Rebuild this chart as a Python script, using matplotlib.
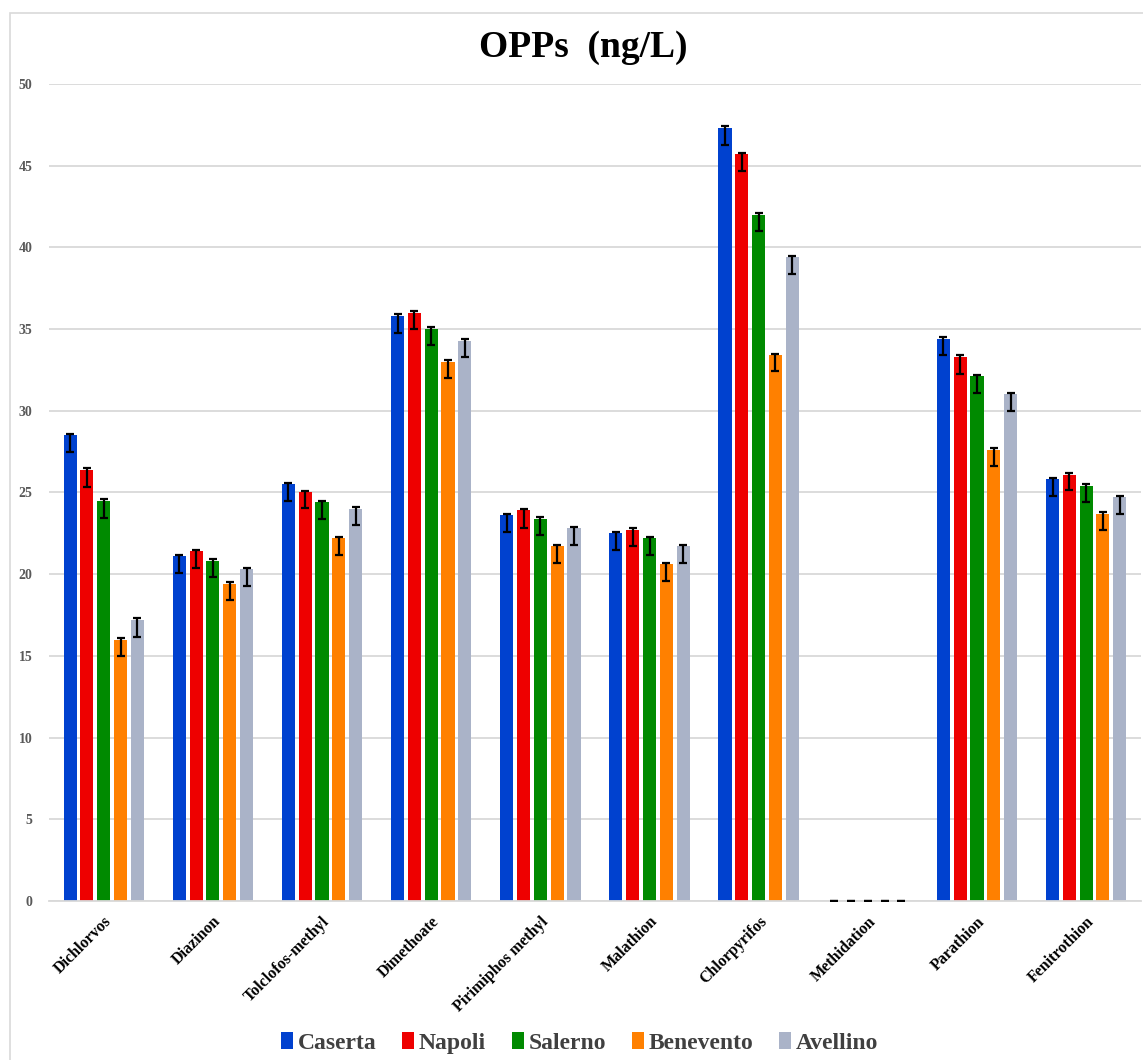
import numpy as np
import matplotlib
matplotlib.use("Agg")
import matplotlib.pyplot as plt
from matplotlib.patches import Rectangle, Patch

categories = ['Dichlorvos', 'Diazinon', 'Tolclofos-methyl', 'Dimethoate', 'Pirimiphos methyl',
              'Malathion', 'Chlorpyrifos', 'Methidation', 'Parathion', 'Fenitrothion']
regions = ['Caserta', 'Napoli', 'Salerno', 'Benevento', 'Avellino']

caserta   = [28.5, 21.1, 25.5, 35.8, 23.6, 22.5, 47.3, 0, 34.4, 25.8]
napoli    = [26.4, 21.4, 25.0, 36.0, 23.9, 22.7, 45.7, 0, 33.3, 26.1]
salerno   = [24.5, 20.8, 24.4, 35.0, 23.4, 22.2, 42.0, 0, 32.1, 25.4]
benevento = [16.0, 19.4, 22.2, 33.0, 21.7, 20.6, 33.4, 0, 27.6, 23.7]
avellino  = [17.2, 20.3, 24.0, 34.3, 22.8, 21.7, 39.4, 0, 31.0, 24.7]

# error bars (lower / upper), mostly hanging below the bar top
err_lo_caserta   = [1.05, 1.0, 1.0, 1.05, 1.0, 1.0, 1.05, 0, 1.0, 1.0]
err_lo_napoli    = [1.05, 1.0, 0.95, 1.0, 1.05, 0.95, 1.0, 0, 1.05, 0.95]
err_lo_salerno   = [1.05, 1.0, 1.0, 1.0, 1.0, 1.0, 1.0, 0, 1.0, 1.0]
err_lo_benevento = [1.0, 1.0, 1.0, 1.0, 1.0, 1.0, 0.95, 0, 0.95, 1.0]
err_lo_avellino  = [1.05, 1.0, 1.0, 1.0, 1.0, 1.0, 1.0, 0, 1.0, 1.0]
err_hi = [0.1, 0.1, 0.1, 0.1, 0.1, 0.1, 0.1, 0, 0.1, 0.1]

values = [caserta, napoli, salerno, benevento, avellino]
err_lo = [err_lo_caserta, err_lo_napoli, err_lo_salerno, err_lo_benevento, err_lo_avellino]
colors = ['#0041CF', '#EE0000', '#008A00', '#FF8000', '#AAB3C8']

fig = plt.figure(figsize=(11.43, 10.6), dpi=100)
fig.patches.append(Rectangle((0.009, -0.01), 1.0, 0.998, transform=fig.transFigure,
                             fill=False, edgecolor='#d9d9d9', linewidth=1.2))
ax = fig.add_axes([0.043, 0.15, 0.955, 0.7708])

x = np.arange(len(categories))
width = 0.12
step = 0.154
for i, (vals, col) in enumerate(zip(values, colors)):
    pos = x + (i - 2) * step
    ax.bar(pos, vals, width, color=col, zorder=2, label=regions[i])
    ax.errorbar(pos, vals, yerr=[err_lo[i], err_hi], fmt='none', ecolor='black',
                elinewidth=1.6, capsize=2.8, capthick=1.6, zorder=3)

ax.set_ylim(0, 50)
ax.set_xlim(-0.5, len(categories) - 0.5)
ax.set_yticks(range(0, 51, 5))
ax.yaxis.grid(True, color='#d9d9d9', linewidth=1.3, zorder=0)
ax.set_axisbelow(True)
for s in ['top', 'right', 'left']:
    ax.spines[s].set_visible(False)
ax.spines['bottom'].set_color('#d9d9d9')
ax.spines['bottom'].set_linewidth(1.3)
ax.tick_params(axis='both', length=0)
ax.tick_params(axis='y', pad=12)

for lab in ax.get_yticklabels():
    lab.set_fontfamily('Liberation Serif')
    lab.set_fontweight('bold')
    lab.set_fontsize(10)
    lab.set_color('#595959')

ax.set_xticks(x)
ax.set_xticklabels(categories, rotation=45, ha='right', rotation_mode='anchor',
                   family='Liberation Serif', fontweight='bold',
                   fontsize=11.5, color='black')
ax.tick_params(axis='x', pad=9)

fig.text(0.51, 0.955, 'OPPs  (ng/L)', ha='center', va='center', family='Liberation Serif',
         fontweight='bold', fontsize=27)

handles = [Patch(facecolor=c, edgecolor='none') for c in colors]
leg = fig.legend(handles, regions, loc='center', bbox_to_anchor=(0.507, 0.016), ncol=5,
                 frameon=False, handlelength=0.5, handleheight=0.75, handletextpad=0.2,
                 columnspacing=1.1,
                 prop={'family': 'Liberation Serif', 'weight': 'bold', 'size': 17})
for t in leg.get_texts():
    t.set_color('#404040')

fig.savefig('out.png', dpi=100)
